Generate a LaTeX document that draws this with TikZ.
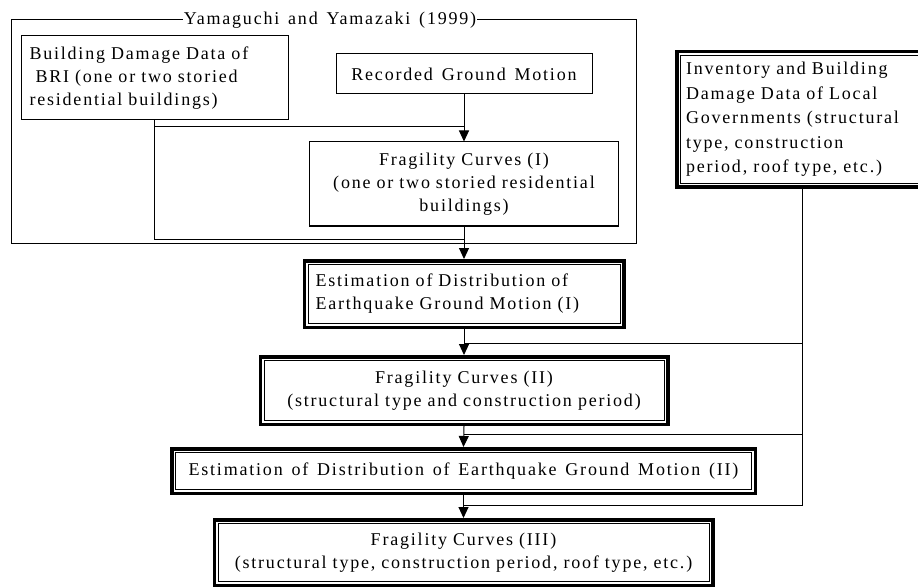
\documentclass[tikz,border=0pt]{standalone}
\usepackage{fontspec}
\setmainfont[LetterSpace=10,WordSpace=1.4]{Liberation Serif}
\usetikzlibrary{arrows.meta,calc}
\begin{document}
\begin{tikzpicture}[x=1pt,y=-1pt,
  every node/.style={font=\fontsize{18}{23}\selectfont},
  plainbox/.style={draw, line width=1pt, inner ysep=0pt},
  dblbox/.style={draw, line width=0.8pt, inner ysep=0pt, outer sep=5.5pt},
  thickframe/.style={line width=3.5pt},
  conn/.style={line width=1pt},
  arr/.style={conn, -{Triangle[width=10pt,length=11pt]}}]
\useasboundingbox (0,0) rectangle (918,588);

% group frame
\node[plainbox, minimum width=625pt, minimum height=223pt, inner sep=0pt] (grp) at (323.5,131.5) {};
\node[fill=white, inner xsep=1pt, inner ysep=1pt, anchor=base] (title) at (330,25) {Yamaguchi and Yamazaki (1999)};

% boxes inside group
\node[plainbox, minimum height=84pt, text width=250pt, inner xsep=8.5pt, align=left] (bri) at (154.5,78)
  {Building Damage Data of\\\hspace*{6pt}BRI (one or two storied\\residential buildings)};
\node[plainbox, minimum width=256pt, minimum height=40pt] (rec) at (464,74) {Recorded Ground Motion};
\node[plainbox, minimum height=84pt, text width=293pt, inner xsep=8pt, align=center] (fr1) at (464,184)
  {Fragility Curves (I)\\(one or two storied residential\\buildings)};

% inventory
\node[dblbox, minimum height=128pt, text width=232pt, inner xsep=5.5pt, align=left,
  font=\fontsize{18}{24.5}\selectfont] (inv) at (802,119.5)
  {Inventory and Building\\Damage Data of Local\\Governments (structural\\type, construction\\period, roof type, etc.)};

% main chain
\node[dblbox, minimum height=59pt, text width=297pt, inner xsep=7.5pt, align=left] (e1) at (464,294)
  {Estimation of Distribution of\\Earthquake Ground Motion (I)};
\node[dblbox, minimum height=60pt, text width=398pt, inner xsep=1pt, align=center] (f2) at (464,390.5)
  {Fragility Curves (II)\\(structural type and construction period)};
\node[dblbox, minimum width=576pt, minimum height=37pt, inner xsep=0pt] (e2) at (463.5,471)
  {Estimation of Distribution of Earthquake Ground Motion (II)};
\node[dblbox, minimum height=58pt, text width=489pt, inner xsep=1pt, align=center] (f3) at (463.5,552.5)
  {Fragility Curves (III)\\(structural type, construction period, roof type, etc.)};

% thick outer frames
\foreach \n in {inv,e1,f2,e2,f3}
  \draw[thickframe] ([xshift=1.75pt,yshift=-1.75pt]\n.north west) rectangle ([xshift=-1.75pt,yshift=1.75pt]\n.south east);

% junction coordinates
\coordinate (b1) at (154.5,127);
\coordinate (b2) at (154.5,239);
\coordinate (j0) at (464,127);
\coordinate (j00) at (464,239);
\coordinate (i1) at (802,343);
\coordinate (i2) at (802,434);
\coordinate (i3) at (802,505);
\coordinate (k1) at (464,343);
\coordinate (k2) at (464,434);
\coordinate (k3) at (464,505);

% connectors
\draw[conn] (bri.south) -- (b2) -- (j00);
\draw[conn] (b1) -- (j0);
\draw[conn] (inv.south) -- (i3) -- (k3);
\draw[conn] (i1) -- (k1);
\draw[conn] (i2) -- (k2);

\draw[arr] (rec.south) -- (fr1.north);
\draw[arr] (fr1.south) -- (e1.north);
\draw[arr] (e1.south) -- (f2.north);
\draw[arr] (f2.south) -- (e2.north);
\draw[arr] (e2.south) -- (f3.north);
\end{tikzpicture}
\end{document}
